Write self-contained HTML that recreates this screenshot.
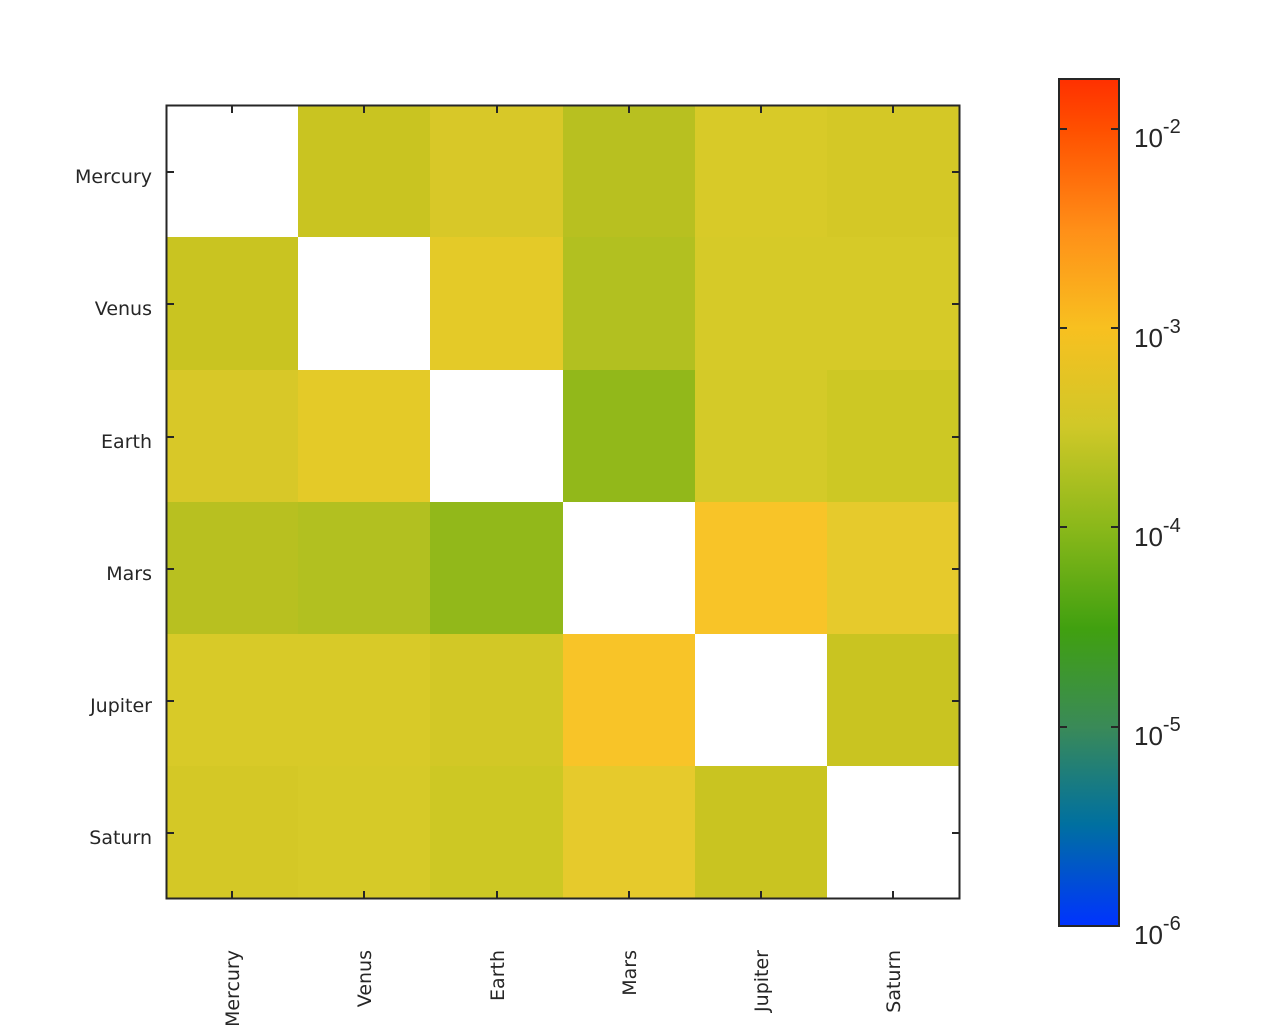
<!DOCTYPE html>
<html><head><style>
body{margin:0;background:#fff;}
svg{display:block;font-family:"Liberation Sans",sans-serif;}
</style></head><body>
<svg width="1281" height="1025" viewBox="0 0 1281 1025" xmlns="http://www.w3.org/2000/svg">
<defs>
<linearGradient id="cb" x1="0" y1="1" x2="0" y2="0">
<stop offset="0" stop-color="#0033ff"/>
<stop offset="0.12" stop-color="#0070a0"/>
<stop offset="0.235" stop-color="#3a8a58"/>
<stop offset="0.35" stop-color="#40a010"/>
<stop offset="0.47" stop-color="#8ab81a"/>
<stop offset="0.59" stop-color="#d0c828"/>
<stop offset="0.706" stop-color="#f8c020"/>
<stop offset="0.82" stop-color="#ff9018"/>
<stop offset="0.94" stop-color="#ff5000"/>
<stop offset="1" stop-color="#ff3000"/>
</linearGradient>
</defs>
<g>
<rect x="166" y="105" width="133" height="133" fill="#fff"/>
<rect x="298" y="105" width="133" height="133" fill="#c9c421"/>
<rect x="430" y="105" width="133" height="133" fill="#d8c828"/>
<rect x="563" y="105" width="133" height="133" fill="#b8c020"/>
<rect x="695" y="105" width="133" height="133" fill="#d8ca28"/>
<rect x="827" y="105" width="133" height="133" fill="#d4c826"/>
<rect x="166" y="237" width="133" height="134" fill="#c9c421"/>
<rect x="298" y="237" width="133" height="134" fill="#fff"/>
<rect x="430" y="237" width="133" height="134" fill="#e4ca28"/>
<rect x="563" y="237" width="133" height="134" fill="#b2c020"/>
<rect x="695" y="237" width="133" height="134" fill="#d6ca28"/>
<rect x="827" y="237" width="133" height="134" fill="#d6ca28"/>
<rect x="166" y="370" width="133" height="133" fill="#d8c828"/>
<rect x="298" y="370" width="133" height="133" fill="#e4ca28"/>
<rect x="430" y="370" width="133" height="133" fill="#fff"/>
<rect x="563" y="370" width="133" height="133" fill="#92b81a"/>
<rect x="695" y="370" width="133" height="133" fill="#d4ca28"/>
<rect x="827" y="370" width="133" height="133" fill="#cdc824"/>
<rect x="166" y="502" width="133" height="133" fill="#b8c020"/>
<rect x="298" y="502" width="133" height="133" fill="#b2c020"/>
<rect x="430" y="502" width="133" height="133" fill="#92b81a"/>
<rect x="563" y="502" width="133" height="133" fill="#fff"/>
<rect x="695" y="502" width="133" height="133" fill="#f8c428"/>
<rect x="827" y="502" width="133" height="133" fill="#e6ca2c"/>
<rect x="166" y="634" width="133" height="133" fill="#d8ca28"/>
<rect x="298" y="634" width="133" height="133" fill="#d8ca28"/>
<rect x="430" y="634" width="133" height="133" fill="#d2c826"/>
<rect x="563" y="634" width="133" height="133" fill="#f8c428"/>
<rect x="695" y="634" width="133" height="133" fill="#fff"/>
<rect x="827" y="634" width="133" height="133" fill="#c9c421"/>
<rect x="166" y="766" width="133" height="133" fill="#d4c826"/>
<rect x="298" y="766" width="133" height="133" fill="#d6ca28"/>
<rect x="430" y="766" width="133" height="133" fill="#cdc824"/>
<rect x="563" y="766" width="133" height="133" fill="#e6ca2c"/>
<rect x="695" y="766" width="133" height="133" fill="#c9c421"/>
<rect x="827" y="766" width="133" height="133" fill="#fff"/>
</g>
<rect x="166.5" y="105.5" width="793" height="793" fill="none" stroke="#262626" stroke-width="2"/>
<g stroke="#262626" stroke-width="2">
<line x1="232" y1="899" x2="232" y2="891"/><line x1="364" y1="899" x2="364" y2="891"/><line x1="497" y1="899" x2="497" y2="891"/><line x1="629" y1="899" x2="629" y2="891"/><line x1="761" y1="899" x2="761" y2="891"/><line x1="893" y1="899" x2="893" y2="891"/>
<line x1="232" y1="105" x2="232" y2="113"/><line x1="364" y1="105" x2="364" y2="113"/><line x1="497" y1="105" x2="497" y2="113"/><line x1="629" y1="105" x2="629" y2="113"/><line x1="761" y1="105" x2="761" y2="113"/><line x1="893" y1="105" x2="893" y2="113"/>
<line x1="166" y1="172" x2="174" y2="172"/><line x1="166" y1="304" x2="174" y2="304"/><line x1="166" y1="437" x2="174" y2="437"/><line x1="166" y1="569" x2="174" y2="569"/><line x1="166" y1="701" x2="174" y2="701"/><line x1="166" y1="833" x2="174" y2="833"/>
<line x1="960" y1="172" x2="952" y2="172"/><line x1="960" y1="304" x2="952" y2="304"/><line x1="960" y1="437" x2="952" y2="437"/><line x1="960" y1="569" x2="952" y2="569"/><line x1="960" y1="701" x2="952" y2="701"/><line x1="960" y1="833" x2="952" y2="833"/>
</g>
<g font-size="19" fill="#262626" text-anchor="end" font-family="DejaVu Sans, sans-serif">
<text x="152" y="183">Mercury</text>
<text x="152" y="315">Venus</text>
<text x="152" y="448">Earth</text>
<text x="152" y="580">Mars</text>
<text x="152" y="712">Jupiter</text>
<text x="152" y="844">Saturn</text>
</g>
<g font-size="19" fill="#262626" text-anchor="end" font-family="DejaVu Sans, sans-serif">
<text transform="translate(239,950) rotate(-90)">Mercury</text>
<text transform="translate(371,950) rotate(-90)">Venus</text>
<text transform="translate(504,950) rotate(-90)">Earth</text>
<text transform="translate(636,950) rotate(-90)">Mars</text>
<text transform="translate(768,950) rotate(-90)">Jupiter</text>
<text transform="translate(900,950) rotate(-90)">Saturn</text>
</g>
<rect x="1059" y="79" width="60" height="847" fill="url(#cb)" stroke="#262626" stroke-width="2"/>
<g stroke="#262626" stroke-width="2">
<line x1="1059" y1="129" x2="1067" y2="129"/><line x1="1119" y1="129" x2="1111" y2="129"/>
<line x1="1059" y1="328" x2="1067" y2="328"/><line x1="1119" y1="328" x2="1111" y2="328"/>
<line x1="1059" y1="527" x2="1067" y2="527"/><line x1="1119" y1="527" x2="1111" y2="527"/>
<line x1="1059" y1="727" x2="1067" y2="727"/><line x1="1119" y1="727" x2="1111" y2="727"/>
</g>
<g font-size="26" fill="#262626">
<text x="1134" y="147">10<tspan font-size="20" dy="-14">-2</tspan></text>
<text x="1134" y="347">10<tspan font-size="20" dy="-14">-3</tspan></text>
<text x="1134" y="546">10<tspan font-size="20" dy="-14">-4</tspan></text>
<text x="1134" y="745">10<tspan font-size="20" dy="-14">-5</tspan></text>
<text x="1134" y="944">10<tspan font-size="20" dy="-14">-6</tspan></text>
</g>
</svg>
</body></html>
